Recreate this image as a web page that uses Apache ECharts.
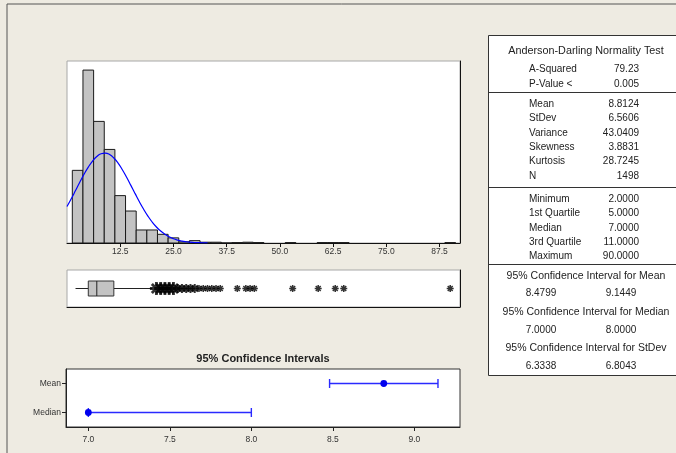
<!DOCTYPE html>
<html><head><meta charset="utf-8">
<script src="https://cdn.jsdelivr.net/npm/echarts@6/dist/echarts.min.js"></script>
<style>html,body{margin:0;padding:0;background:#eeebe2}#c{width:676px;height:453px}</style>
</head><body><div id="c"></div><script>
// ---- data ----
const binCenters = [2.5,5,7.5,10,12.5,15,17.5,20,22.5,25,27.5,30,32.5,35,37.5,40,42.5,45,52.5,60,62.5,65,90];
const binCounts  = [184,438,308,237,120,81,33,33,22,13,3,6,2,2,0,1,2,1,1,1,1,1,1];
const binWidth = 2.5;
const curveX = [0,1,2,3,4,5,6,7,8,9,10,11,12,13,14,15,16,17,18,19,20,21,22,23,24,25,26,27,28,29,30,31,32,33];
const curveY = [92.4,112.1,132.8,153.8,174.0,192.3,207.7,219.2,226.0,227.6,224.0,215.4,202.4,185.7,166.6,145.9,125.0,104.5,85.4,68.2,53.2,40.6,30.2,22.0,15.6,10.8,7.4,4.9,3.2,2.0,1.2,0.75,0.44,0.25];
const histTicks = [12.5,25,37.5,50,62.5,75,87.5];
const boxStats = [2,5,7,11,20];
const outlierValues = [21,22,23,24,25,26,27,28,29,30,31,32,33,34,35,36,40,42,43,44,53,59,63,65,90];
const outlierCounts = [9,8,7,5,5,4,2,2,3,2,1,1,1,1,1,1,1,1,1,1,1,1,1,1,1];
const ciCategories = ['Median','Mean'];
const ciLower = [7.0, 8.4799];
const ciUpper = [8.0, 9.1449];
const ciEstimate = [7.0, 8.8124];
const ciTicks = [7.0,7.5,8.0,8.5,9.0];
const adTitle = 'Anderson-Darling Normality Test';
const adLabels = ['A-Squared','P-Value <'];
const adValues = ['79.23','0.005'];
const descLabels = ['Mean','StDev','Variance','Skewness','Kurtosis','N'];
const descValues = ['8.8124','6.5606','43.0409','3.8831','28.7245','1498'];
const quantLabels = ['Minimum','1st Quartile','Median','3rd Quartile','Maximum'];
const quantValues = ['2.0000','5.0000','7.0000','11.0000','90.0000'];
const ciTitles = ['95% Confidence Interval for Mean','95% Confidence Interval for Median','95% Confidence Interval for StDev'];
const ciTableValues = [['8.4799','9.1449'],['7.0000','8.0000'],['6.3338','6.8043']];

// ---- chart ----
const FONT = '"Liberation Sans", Arial, sans-serif';
const chart = echarts.init(document.getElementById('c'), null, {renderer:'canvas'});

const asterisk = 'path://M-1.1,-5L1.1,-5L1.1,5L-1.1,5Z M-5,-1.1L5,-1.1L5,1.1L-5,1.1Z M-4.3,-2.75L-2.75,-4.3L4.3,2.75L2.75,4.3Z M2.75,-4.3L4.3,-2.75L-2.75,4.3L-4.3,2.75Z';

const graphics = [];
// outer frame
graphics.push({type:'line', shape:{x1:7,y1:4,x2:676,y2:4}, style:{stroke:'#555',lineWidth:1}, silent:true});
graphics.push({type:'line', shape:{x1:7,y1:4,x2:7,y2:453}, style:{stroke:'#555',lineWidth:1}, silent:true});
// table
graphics.push({type:'rect', shape:{x:488.5,y:35.5,width:200,height:340}, style:{fill:'#fff',stroke:'#333',lineWidth:1}, silent:true});
[92.5,187.5,264.5].forEach(y=>graphics.push({type:'line', shape:{x1:488,y1:y,x2:676,y2:y}, style:{stroke:'#333',lineWidth:1}, silent:true}));
function txt(t,x,y,align,font){
  graphics.push({type:'text', x:x, y:y, silent:true,
    style:{text:t, x:0, y:0, fill:'#222', font:font||('10px '+FONT), textAlign:align, textVerticalAlign:'middle', align:align, verticalAlign:'middle'}});
}
txt(adTitle, 586, 51, 'center', '10.8px '+FONT);
adLabels.forEach((l,i)=>{ const y=69.5+i*14.5; txt(l,529,y,'left'); txt(adValues[i],639,y,'right'); });
descLabels.forEach((l,i)=>{ const y=104+i*14.4; txt(l,529,y,'left'); txt(descValues[i],639,y,'right'); });
quantLabels.forEach((l,i)=>{ const y=199.3+i*14.25; txt(l,529,y,'left'); txt(quantValues[i],639,y,'right'); });
ciTitles.forEach((t,i)=>{ const y=276+i*36.2; txt(t,586,y,'center','10.5px '+FONT); txt(ciTableValues[i][0],541,y+17.6,'center'); txt(ciTableValues[i][1],621,y+17.6,'center'); });
// CI title
txt('95% Confidence Intervals', 263, 359, 'center', 'bold 11px '+FONT);

const option = {
  backgroundColor:'#eeebe2',
  animation:false,
  graphic:{elements:graphics},
  grid:[
    {left:67, top:61, width:393, height:182, show:true, backgroundColor:'#fff', borderColor:'#a8a8a8', borderWidth:1},
    {left:67, top:270, width:393, height:37, show:true, backgroundColor:'#fff', borderColor:'#a8a8a8', borderWidth:1},
    {left:66, top:369, width:394, height:58, show:true, backgroundColor:'#fff', borderColor:'#333', borderWidth:1}
  ],
  xAxis:[
    {gridIndex:0, type:'value', min:0, max:92.3, splitLine:{show:false},
     axisLine:{show:true, lineStyle:{color:'#111', width:1}},
     axisTick:{show:true, length:4, customValues:histTicks, lineStyle:{color:'#111'}},
     axisLabel:{show:true, customValues:histTicks, formatter:v=>v.toFixed(1), fontSize:8.5, color:'#333', margin:4, fontFamily:FONT}},
    {gridIndex:1, type:'value', min:0, max:92.3, splitLine:{show:false},
     axisLine:{show:true, lineStyle:{color:'#111'}}, axisTick:{show:false}, axisLabel:{show:false}},
    {gridIndex:2, type:'value', min:6.863, max:9.28, splitLine:{show:false},
     axisLine:{show:true, lineStyle:{color:'#222'}},
     axisTick:{show:true, length:4, customValues:ciTicks, lineStyle:{color:'#222'}},
     axisLabel:{show:true, customValues:ciTicks, formatter:v=>v.toFixed(1), fontSize:8.5, color:'#333', margin:8, fontFamily:FONT}}
  ],
  yAxis:[
    {gridIndex:0, type:'value', min:0, max:461, show:false},
    {gridIndex:0, type:'value', position:'right', min:0, max:1, splitLine:{show:false}, axisLine:{show:true, lineStyle:{color:'#111'}}, axisTick:{show:false}, axisLabel:{show:false}},
    {gridIndex:1, type:'category', data:['box'], show:false},
    {gridIndex:1, type:'value', position:'right', min:0, max:1, splitLine:{show:false}, axisLine:{show:true, lineStyle:{color:'#111'}}, axisTick:{show:false}, axisLabel:{show:false}},
    {gridIndex:2, type:'category', data:ciCategories, axisLine:{show:true, lineStyle:{color:'#222'}},
     axisTick:{show:true, length:4, alignWithLabel:true, lineStyle:{color:'#222'}},
     axisLabel:{fontSize:8.5, color:'#333', margin:5, fontFamily:FONT}}
  ],
  series:[
    {type:'custom', xAxisIndex:0, yAxisIndex:0, clip:true,
     data: binCenters.map((c,i)=>[c, binCounts[i]]),
     encode:{x:0, y:1},
     renderItem:(params, api)=>{
       const c = api.value(0), n = api.value(1);
       const p0 = api.coord([c - binWidth/2, n]);
       const p1 = api.coord([c + binWidth/2, 0]);
       return {type:'rect', shape:{x:p0[0], y:p0[1], width:p1[0]-p0[0], height:p1[1]-p0[1]},
               style:{fill:'#c3c3c3', stroke:'#1a1a1a', lineWidth:1}};
     }},
    {type:'line', xAxisIndex:0, yAxisIndex:0, data: curveX.map((x,i)=>[x, curveY[i]]),
     showSymbol:false, smooth:true, lineStyle:{color:'#0000ff', width:1.2}, z:5},
    {type:'custom', xAxisIndex:1, yAxisIndex:2,
     data:[[...boxStats, 0]], encode:{x:[0,1,2,3,4], y:5},
     renderItem:(params, api)=>{
       const xs = [0,1,2,3,4].map(k=>api.coord([api.value(k), 0])[0]);
       const yc = api.coord([api.value(0), 0])[1];
       const h = 15;
       const ls = {stroke:'#222', lineWidth:1};
       return {type:'group', children:[
         {type:'line', shape:{x1:xs[0],y1:yc,x2:xs[1],y2:yc}, style:ls},
         {type:'line', shape:{x1:xs[3],y1:yc,x2:xs[4],y2:yc}, style:ls},
         {type:'rect', shape:{x:xs[1], y:yc-h/2, width:xs[3]-xs[1], height:h}, style:{fill:'#c3c3c3', stroke:'#333', lineWidth:1}},
         {type:'line', shape:{x1:xs[2],y1:yc-h/2,x2:xs[2],y2:yc+h/2}, style:ls}
       ]};
     }},
    {type:'scatter', xAxisIndex:1, yAxisIndex:2,
     data: outlierValues.map((v,i)=>[v, 0, outlierCounts[i]]),
     symbol: asterisk,
     symbolSize: (v)=> v[2] >= 5 ? 13 : (v[2] >= 2 ? 9 : 7),
     itemStyle:{color:'#000'}, z:4},
    {type:'custom', xAxisIndex:2, yAxisIndex:4,
     data: ciCategories.map((c,i)=>[ciLower[i], ciUpper[i], ciEstimate[i], i]),
     encode:{x:[0,1,2], y:3},
     renderItem:(params, api)=>{
       const lo = api.coord([api.value(0), api.value(3)]);
       const hi = api.coord([api.value(1), api.value(3)]);
       const es = api.coord([api.value(2), api.value(3)]);
       const st = {stroke:'#2a2aff', lineWidth:1.4};
       const ch = 4.5;
       return {type:'group', children:[
         {type:'line', shape:{x1:lo[0],y1:lo[1],x2:hi[0],y2:hi[1]}, style:st},
         {type:'line', shape:{x1:lo[0],y1:lo[1]-ch,x2:lo[0],y2:lo[1]+ch}, style:st},
         {type:'line', shape:{x1:hi[0],y1:hi[1]-ch,x2:hi[0],y2:hi[1]+ch}, style:st},
         {type:'circle', shape:{cx:es[0], cy:es[1], r:3.4}, style:{fill:'#0000ee'}}
       ]};
     }}
  ]
};
chart.setOption(option);
</script></body></html>
